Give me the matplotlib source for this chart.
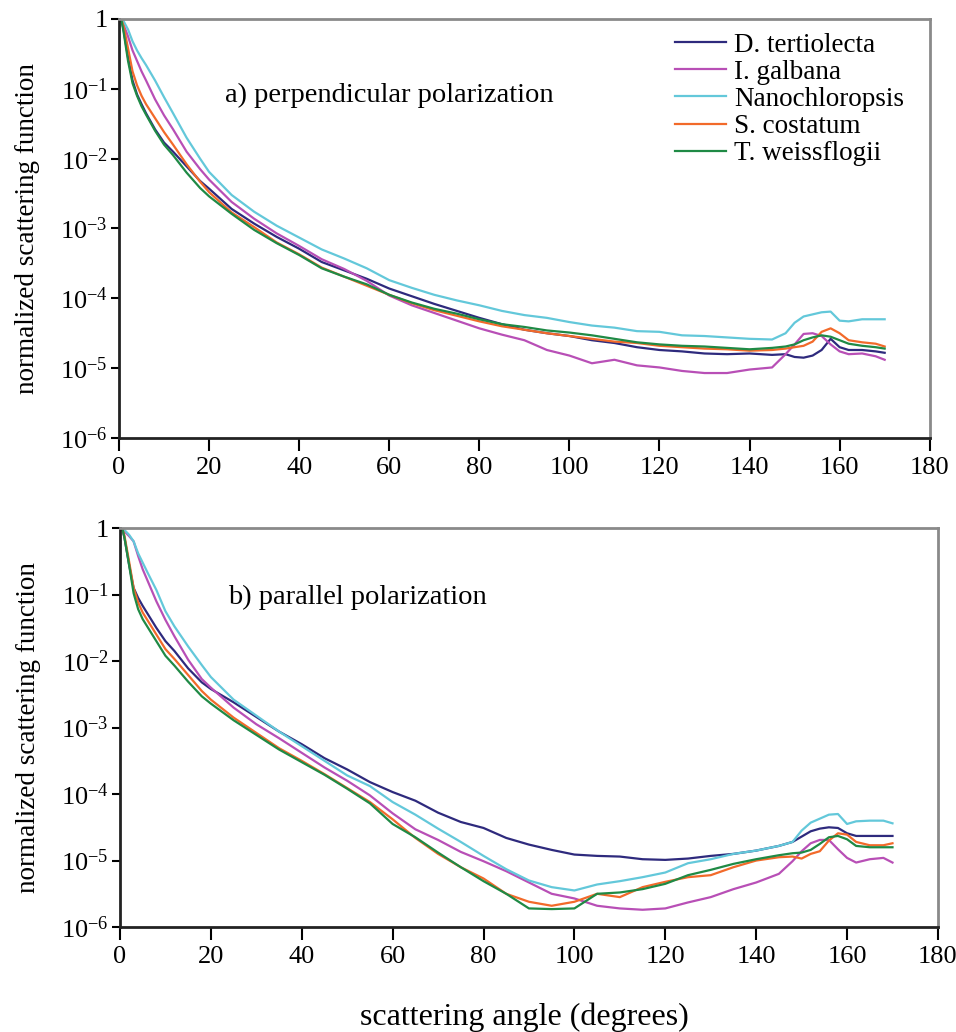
import numpy as np
import matplotlib
matplotlib.use("Agg")
import matplotlib.pyplot as plt
from matplotlib.ticker import FixedLocator, FixedFormatter

plt.rcParams['font.family'] = ['Liberation Serif', 'DejaVu Serif']
plt.rcParams['mathtext.fontset'] = 'custom'
plt.rcParams['mathtext.rm'] = 'Liberation Serif'
plt.rcParams['mathtext.it'] = 'Liberation Serif:italic'

# scattering angle (degrees)
angle = [0.5, 1, 2, 3, 4, 5, 6, 8, 10, 12, 15, 18, 20, 25, 30, 35, 40, 45, 50, 55,
         60, 65, 70, 75, 80, 85, 90, 95, 100, 105, 110, 115, 120, 125, 130, 135, 140,
         145, 148, 150, 152, 154, 156, 158, 160, 162, 165, 168, 170]

species = ["D. tertiolecta", "I. galbana", "Nanochloropsis", "S. costatum", "T. weissflogii"]
colors = ["#2e2a7d", "#b84fb6", "#63c8da", "#f26a2a", "#1f8a45"]

# log10 of normalized scattering function, a) perpendicular polarization
perp_dt = [0, -0.15, -0.55, -0.88, -1.08, -1.22, -1.35, -1.58, -1.77, -1.90, -2.11, -2.32, -2.43,
           -2.72, -2.93, -3.12, -3.29, -3.48, -3.60, -3.72, -3.86, -3.97, -4.08, -4.18, -4.28,
           -4.37, -4.45, -4.50, -4.54, -4.60, -4.64, -4.70, -4.74, -4.76, -4.79, -4.80, -4.79,
           -4.81, -4.80, -4.84, -4.85, -4.82, -4.74, -4.58, -4.70, -4.74, -4.74, -4.76, -4.78]
perp_ig = [0, -0.08, -0.25, -0.45, -0.60, -0.75, -0.88, -1.15, -1.38, -1.58, -1.90, -2.15, -2.30,
           -2.62, -2.86, -3.07, -3.25, -3.44, -3.58, -3.75, -3.96, -4.10, -4.21, -4.32, -4.43,
           -4.52, -4.60, -4.74, -4.82, -4.93, -4.88, -4.96, -4.99, -5.04, -5.07, -5.07, -5.02,
           -4.99, -4.80, -4.66, -4.51, -4.50, -4.54, -4.66, -4.76, -4.80, -4.79, -4.83, -4.88]
perp_nc = [0, -0.03, -0.15, -0.32, -0.45, -0.56, -0.66, -0.88, -1.12, -1.35, -1.70, -2.00, -2.19,
           -2.52, -2.76, -2.96, -3.13, -3.30, -3.43, -3.57, -3.74, -3.85, -3.95, -4.03, -4.10,
           -4.18, -4.24, -4.28, -4.34, -4.39, -4.42, -4.47, -4.48, -4.53, -4.54, -4.56, -4.58,
           -4.59, -4.50, -4.35, -4.26, -4.23, -4.20, -4.19, -4.32, -4.33, -4.30, -4.30, -4.30]
perp_sc = [0, -0.10, -0.42, -0.75, -0.95, -1.10, -1.22, -1.42, -1.62, -1.80, -2.08, -2.33, -2.48,
           -2.77, -2.98, -3.20, -3.37, -3.56, -3.69, -3.82, -3.95, -4.07, -4.17, -4.25, -4.33,
           -4.40, -4.45, -4.50, -4.54, -4.58, -4.62, -4.64, -4.68, -4.70, -4.72, -4.73, -4.75,
           -4.74, -4.72, -4.70, -4.68, -4.62, -4.48, -4.43, -4.50, -4.60, -4.63, -4.65, -4.69]
perp_tw = [0, -0.18, -0.60, -0.92, -1.10, -1.25, -1.37, -1.60, -1.80, -1.95, -2.20, -2.42, -2.54,
           -2.79, -3.02, -3.21, -3.38, -3.57, -3.69, -3.80, -3.95, -4.06, -4.15, -4.22, -4.30,
           -4.37, -4.41, -4.46, -4.49, -4.53, -4.58, -4.63, -4.66, -4.68, -4.69, -4.71, -4.73,
           -4.71, -4.69, -4.66, -4.60, -4.56, -4.53, -4.55, -4.60, -4.65, -4.68, -4.70, -4.72]

# log10 of normalized scattering function, b) parallel polarization
par_dt = [0, -0.15, -0.55, -0.90, -1.05, -1.17, -1.28, -1.50, -1.70, -1.85, -2.11, -2.32, -2.42,
          -2.62, -2.84, -3.06, -3.25, -3.46, -3.63, -3.82, -3.97, -4.10, -4.28, -4.42, -4.51,
          -4.66, -4.76, -4.84, -4.91, -4.93, -4.94, -4.98, -4.99, -4.97, -4.93, -4.90, -4.85,
          -4.78, -4.72, -4.64, -4.56, -4.52, -4.50, -4.51, -4.59, -4.63, -4.63, -4.63, -4.63]
par_ig = [0, -0.05, -0.12, -0.20, -0.42, -0.62, -0.78, -1.10, -1.38, -1.63, -1.98, -2.27, -2.40,
          -2.70, -2.95, -3.16, -3.38, -3.60, -3.80, -4.02, -4.29, -4.53, -4.69, -4.87, -5.01,
          -5.16, -5.33, -5.50, -5.57, -5.68, -5.72, -5.74, -5.72, -5.63, -5.55, -5.43, -5.33,
          -5.20, -5.01, -4.86, -4.74, -4.69, -4.69, -4.83, -4.96, -5.03, -4.98, -4.96, -5.03]
par_nc = [0, -0.03, -0.10, -0.20, -0.38, -0.52, -0.66, -0.93, -1.25, -1.48, -1.78, -2.06, -2.24,
          -2.58, -2.82, -3.06, -3.28, -3.50, -3.72, -3.88, -4.12, -4.31, -4.52, -4.72, -4.93,
          -5.13, -5.30, -5.40, -5.45, -5.36, -5.31, -5.25, -5.18, -5.04, -4.98, -4.90, -4.85,
          -4.78, -4.72, -4.55, -4.43, -4.37, -4.31, -4.30, -4.45, -4.41, -4.40, -4.40, -4.44]
par_sc = [0, -0.12, -0.50, -0.90, -1.12, -1.27, -1.38, -1.60, -1.82, -1.97, -2.21, -2.45, -2.58,
          -2.85, -3.08, -3.31, -3.50, -3.70, -3.91, -4.12, -4.38, -4.66, -4.90, -5.10, -5.27,
          -5.50, -5.62, -5.68, -5.62, -5.50, -5.55, -5.40, -5.32, -5.25, -5.22, -5.10, -5.00,
          -4.95, -4.94, -4.97, -4.90, -4.86, -4.70, -4.59, -4.61, -4.72, -4.77, -4.77, -4.74]
par_tw = [0, -0.15, -0.55, -0.98, -1.22, -1.37, -1.48, -1.70, -1.92, -2.07, -2.31, -2.53, -2.64,
          -2.89, -3.11, -3.33, -3.52, -3.71, -3.92, -4.14, -4.45, -4.65, -4.88, -5.10, -5.31,
          -5.50, -5.72, -5.73, -5.72, -5.50, -5.48, -5.43, -5.35, -5.22, -5.14, -5.05, -4.98,
          -4.92, -4.89, -4.88, -4.84, -4.75, -4.65, -4.63, -4.68, -4.78, -4.80, -4.80, -4.80]

perp = [perp_dt, perp_ig, perp_nc, perp_sc, perp_tw]
par = [par_dt, par_ig, par_nc, par_sc, par_tw]

y_ticks = [1e-6, 1e-5, 1e-4, 1e-3, 1e-2, 1e-1, 1]
y_labels = ["$10^{-6}$", "$10^{-5}$", "$10^{-4}$", "$10^{-3}$", "$10^{-2}$", "$10^{-1}$", "1"]
x_ticks = [0, 20, 40, 60, 80, 100, 120, 140, 160, 180]

fig = plt.figure(figsize=(9.56, 10.32), dpi=100)
ax1 = fig.add_axes([0.1245, 0.5756, 0.848, 0.406])
ax2 = fig.add_axes([0.1255, 0.1017, 0.8556, 0.3866])


def style_axis(ax):
    ax.set_yscale("log")
    ax.set_xlim(0, 180)
    ax.set_ylim(1e-6, 1)
    ax.yaxis.set_major_locator(FixedLocator(y_ticks))
    ax.yaxis.set_major_formatter(FixedFormatter(y_labels))
    ax.yaxis.set_minor_locator(FixedLocator([]))
    ax.set_xticks(x_ticks)
    ax.tick_params(axis="x", direction="out", length=9, width=1.5, labelsize=19, pad=5)
    ax.tick_params(axis="y", direction="out", length=6, width=1.5, labelsize=19, pad=2)
    for s in ["top", "right"]:
        ax.spines[s].set_color("#8a8a8a")
        ax.spines[s].set_linewidth(2)
    for s in ["left", "bottom"]:
        ax.spines[s].set_color("#222222")
        ax.spines[s].set_linewidth(2)
    ax.set_ylabel("normalized scattering function", fontsize=19.5)
    ax.yaxis.set_label_coords(-0.097, 0.5)


for ax, data in [(ax1, perp), (ax2, par)]:
    for name, col, vals in zip(species, colors, data):
        ax.plot(angle, 10 ** np.array(vals), color=col, lw=1.6, label=name)
    style_axis(ax)

ax1.text(23.5, 10 ** -1.09, "a) perpendicular polarization", fontsize=20.5, va="center")
ax2.text(23.8, 10 ** -1.05, "b) parallel polarization", fontsize=20.5, va="center")

ax1.legend(loc="upper right", frameon=False, fontsize=19.5, handlelength=1.9,
           handletextpad=0.28, labelspacing=0.08, borderaxespad=0.1,
           bbox_to_anchor=(0.985, 1.0))

ax2.set_xlabel("scattering angle (degrees)", fontsize=23)
ax2.xaxis.set_label_coords(0.495, -0.19)

fig.savefig("out.png", dpi=100)
